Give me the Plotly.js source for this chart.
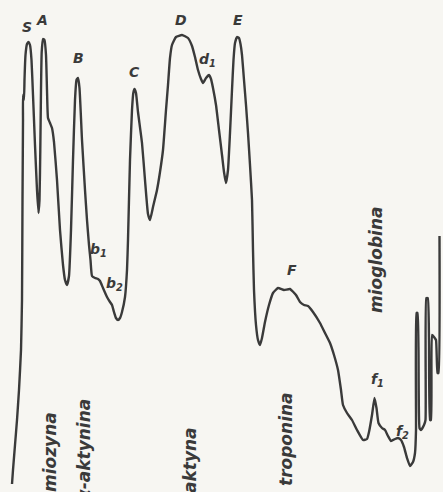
<!DOCTYPE html>
<html>
<head>
<meta charset="utf-8">
<script src="https://cdn.plot.ly/plotly-3.0.1.min.js"></script>
<style>
  html, body { margin: 0; padding: 0; background: #f7f6f2; }
  #chart { width: 443px; height: 492px; }
</style>
</head>
<body>
<div id="chart"></div>
<script>
// Densitometric trace: position along the gel and signal height
const position = [
  12, 13, 15, 17, 19, 21, 22, 22.5, 23, 23, 24, 24.5, 25.5, 27, 28.5, 30, 31.5, 33, 35, 37,
  38.5, 39.5, 40.3, 41, 41.7, 43, 44.5, 46, 47, 48, 50, 52, 54, 57, 60, 63, 65, 67, 69, 71,
  73, 75, 76.5, 78, 79.5, 82, 85, 87, 89, 90.5, 92, 95, 98, 100, 103, 107, 110, 112, 114, 116,
  118, 120, 122, 125, 127, 128, 130, 132, 133.3, 134.5, 136, 138, 142, 145, 148, 150, 153, 157, 160, 163,
  166, 168, 170, 172, 176, 182, 188, 192, 195, 198, 201, 203, 206, 209, 211, 213, 216, 219, 222, 224,
  226, 228, 230, 232, 233.5, 235, 237, 239, 240.5, 242, 244, 246, 248, 250, 252, 253, 254, 256, 258, 260,
  262, 265, 269, 273, 278, 284, 290, 296, 300, 304, 308, 313, 320, 325, 330, 334, 338, 341, 343, 347,
  352, 357, 363, 367, 369, 372, 374.5, 376.5, 378.5, 382, 385, 388, 391, 395, 398, 401, 404, 407, 410, 413,
  415, 416, 416.5, 417.5, 418.5, 419.5, 421, 424, 425.5, 426.3, 427.8, 429, 430, 431, 432, 434, 436, 437.5, 438.5, 439.5
];
const signal = [
  8, 22, 47, 72, 102, 142, 192, 292, 372, 397, 392, 412, 437, 448, 450, 447, 432, 397, 347, 302,
  279, 292, 342, 402, 440, 453, 452, 437, 402, 374, 369, 364, 350, 312, 262, 227, 212, 207, 216, 262,
  332, 392, 412, 414, 404, 352, 302, 272, 247, 232, 216, 214, 213, 211, 204, 195, 190, 187, 180, 174,
  172, 174, 180, 195, 222, 252, 332, 382, 399, 403, 399, 380, 349, 312, 278, 272, 285, 302, 320, 342,
  382, 407, 434, 447, 455, 457, 454, 446, 435, 422, 413, 409, 414, 417, 413, 404, 387, 362, 337, 320,
  309, 322, 359, 402, 432, 449, 455, 454, 448, 437, 412, 387, 359, 327, 292, 242, 202, 167, 152, 147,
  154, 170, 187, 199, 204, 202, 203, 197, 190, 187, 186, 180, 169, 159, 149, 137, 122, 102, 87, 79,
  72, 62, 52, 53, 60, 77, 94, 84, 69, 64, 62, 56, 51, 53, 54, 52, 45, 34, 26, 30,
  39, 62, 179, 179, 142, 64, 62, 67, 72, 194, 194, 152, 72, 72, 157, 155, 152, 119, 119, 256
];

// Peak letters
const peakLabels = ['S', 'A', 'B', 'C', 'D', 'E', 'd<sub>1</sub>', 'b<sub>1</sub>', 'b<sub>2</sub>', 'F', 'f<sub>1</sub>', 'f<sub>2</sub>'];
const peakLabelX = [27, 42, 78, 134, 181, 238, 207, 98, 114, 292, 377, 402];
const peakLabelY = [465, 472, 434, 420, 472, 472, 432, 242, 208, 222, 112, 60];

// Protein names (rotated)
const proteinNames = ['miozyna', 'α-aktynina', 'aktyna', 'troponina', 'mioglobina'];
const proteinX = [50, 84, 190, 286, 376];
const proteinTop = [82, 95, 67, 102, 287];

const ink = '#3a3a3a';
const annotations = [];
peakLabels.forEach((t, i) => {
  annotations.push({
    x: peakLabelX[i], y: peakLabelY[i], xref: 'x', yref: 'y',
    text: '<b><i>' + t + '</i></b>', showarrow: false,
    font: {family: 'DejaVu Sans', size: 14, color: ink}
  });
});
proteinNames.forEach((t, i) => {
  annotations.push({
    x: proteinX[i], y: proteinTop[i], xref: 'x', yref: 'y',
    text: '<b><i>' + t + '</i></b>', showarrow: false, textangle: -90,
    xanchor: 'center', yanchor: 'top',
    font: {family: 'DejaVu Sans', size: 17, color: ink}
  });
});

Plotly.newPlot('chart', [{
  x: position, y: signal, type: 'scatter', mode: 'lines',
  line: {color: ink, width: 2.4, shape: 'spline', smoothing: 0.4},
  hoverinfo: 'skip'
}], {
  width: 443, height: 492,
  margin: {l: 0, r: 0, t: 0, b: 0},
  paper_bgcolor: '#f7f6f2', plot_bgcolor: '#f7f6f2',
  showlegend: false,
  xaxis: {range: [0, 443], visible: false, fixedrange: true},
  yaxis: {range: [0, 492], visible: false, fixedrange: true},
  annotations: annotations
}, {displayModeBar: false, staticPlot: true});
</script>
</body>
</html>
